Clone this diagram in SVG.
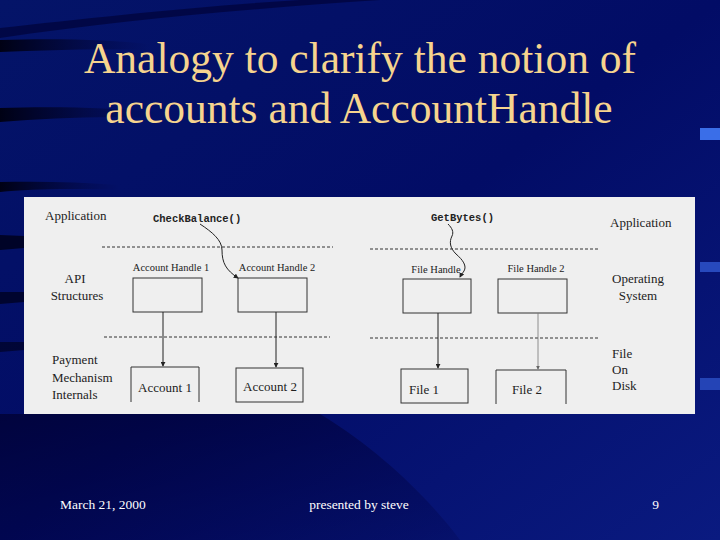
<svg xmlns="http://www.w3.org/2000/svg" width="720" height="540" viewBox="0 0 720 540">
  <defs>
    <linearGradient id="bg" x1="0" y1="0" x2="1" y2="1">
      <stop offset="0" stop-color="#041468"/>
      <stop offset="0.5" stop-color="#020c66"/>
      <stop offset="1" stop-color="#0a1a80"/>
    </linearGradient>
    <linearGradient id="streak" x1="0" y1="0" x2="1" y2="0">
      <stop offset="0" stop-color="#000010" stop-opacity="0.95"/>
      <stop offset="0.6" stop-color="#000020" stop-opacity="0.35"/>
      <stop offset="1" stop-color="#000030" stop-opacity="0"/>
    </linearGradient>
    <linearGradient id="lowdark" x1="0" y1="0" x2="1" y2="1">
      <stop offset="0" stop-color="#000030" stop-opacity="0.75"/>
      <stop offset="1" stop-color="#000040" stop-opacity="0.2"/>
    </linearGradient>
    <marker id="ah" viewBox="0 0 6 6" refX="5" refY="3" markerWidth="5" markerHeight="5" orient="auto">
      <path d="M0,0 L6,3 L0,6 z" fill="#222"/>
    </marker>
    <marker id="ahg" viewBox="0 0 6 6" refX="5" refY="3" markerWidth="5" markerHeight="5" orient="auto">
      <path d="M0,0 L6,3 L0,6 z" fill="#666"/>
    </marker>
  </defs>
  <style>
    .title { font-family: "Liberation Serif", "Times New Roman", serif; font-size: 43.5px; fill: #f6d48e; text-anchor: middle; }
    .foot { font-family: "Liberation Serif", "Times New Roman", serif; font-size: 13.5px; fill: #ffffff; }
    .lab { font-family: "Liberation Serif", "Times New Roman", serif; font-size: 13px; fill: #222; }
    .small { font-family: "Liberation Serif", "Times New Roman", serif; font-size: 10.5px; fill: #222; }
    .mono { font-family: "Liberation Mono", "Courier New", monospace; font-size: 10.5px; font-weight: bold; fill: #222; }
    .box { fill: none; stroke: #333; stroke-width: 1; }
    .dash { stroke: #333; stroke-width: 1; stroke-dasharray: 3 2; fill: none; }
    .conn { stroke: #222; stroke-width: 1; fill: none; }
  </style>

  <!-- background -->
  <rect x="0" y="0" width="720" height="540" fill="url(#bg)"/>
  <path d="M0,38 C120,20 260,8 380,0 L300,0 C200,6 90,18 0,28 z" fill="#000030" opacity="0.6"/>
  <path d="M0,40 C60,38 110,40 150,44 L150,50 C100,48 50,50 0,52 z" fill="url(#streak)"/>
  <path d="M0,108 C60,106 110,108 160,112 L160,118 C100,116 50,118 0,122 z" fill="url(#streak)"/>
  <path d="M0,182 C40,181 80,182 120,185 L120,190 C70,188 30,189 0,192 z" fill="url(#streak)"/>
  <path d="M0,235 L24,236 L24,248 L0,250 z" fill="#000018" opacity="0.8"/>
  <path d="M0,292 L24,292 L24,302 L0,304 z" fill="#000018" opacity="0.7"/>
  <path d="M0,342 L24,342 L24,350 L0,352 z" fill="#000018" opacity="0.6"/>
  <path d="M0,414 L320,414 C380,450 430,500 460,540 L0,540 z" fill="url(#lowdark)"/>
  <rect x="700" y="128" width="20" height="12" fill="#3a6ee8"/>
  <rect x="700" y="262" width="20" height="10" fill="#3058d0" opacity="0.8"/>
  <rect x="700" y="378" width="20" height="12" fill="#3058d0" opacity="0.7"/>

  <!-- title -->
  <g id="title">
    <text class="title" x="360" y="73">Analogy to clarify the notion of</text>
    <text class="title" x="359" y="123">accounts and AccountHandle</text>
  </g>

  <!-- figure panel -->
  <rect x="24" y="197" width="671" height="217" fill="#efefef"/>

  <!-- layer separators -->
  <g id="separators">
    <line class="dash" x1="102" y1="247" x2="333" y2="247"/>
    <line class="dash" x1="104" y1="337" x2="330" y2="337"/>
    <line class="dash" x1="370" y1="249" x2="598" y2="249"/>
    <line class="dash" x1="370" y1="338" x2="599" y2="338"/>
  </g>

  <!-- layer labels -->
  <g id="left-layers">
    <text class="lab" x="45" y="220">Application</text>
    <text class="lab" x="75" y="283" text-anchor="middle">API</text>
    <text class="lab" x="77" y="300" text-anchor="middle">Structures</text>
    <text class="lab" x="52" y="364">Payment</text>
    <text class="lab" x="52" y="382">Mechanism</text>
    <text class="lab" x="52" y="399">Internals</text>
  </g>
  <g id="right-layers">
    <text class="lab" x="610" y="227">Application</text>
    <text class="lab" x="638" y="283" text-anchor="middle">Operating</text>
    <text class="lab" x="638" y="300" text-anchor="middle">System</text>
    <text class="lab" x="612" y="358">File</text>
    <text class="lab" x="612" y="374">On</text>
    <text class="lab" x="612" y="390">Disk</text>
  </g>

  <!-- calls -->
  <g id="call-checkbalance">
    <text class="mono" x="153" y="222">CheckBalance()</text>
  </g>
  <g id="call-getbytes">
    <text class="mono" x="431" y="221">GetBytes()</text>
  </g>

  <!-- nodes -->
  <g id="account-handle-1">
    <text class="small" x="171" y="271" text-anchor="middle">Account Handle 1</text>
    <rect class="box" x="133" y="278" width="69" height="34"/>
  </g>
  <g id="account-handle-2">
    <text class="small" x="277" y="271" text-anchor="middle">Account Handle 2</text>
    <rect class="box" x="238" y="278" width="69" height="34"/>
  </g>
  <g id="account-1">
    <path class="box" d="M131,402 V367 H199 V402"/>
    <text class="lab" x="165" y="392" text-anchor="middle">Account 1</text>
  </g>
  <g id="account-2">
    <rect class="box" x="236" y="368" width="67" height="34"/>
    <text class="lab" x="270" y="391" text-anchor="middle">Account 2</text>
  </g>
  <g id="file-handle">
    <text class="small" x="436" y="273" text-anchor="middle">File Handle</text>
    <rect class="box" x="403" y="279" width="68" height="34"/>
  </g>
  <g id="file-handle-2">
    <text class="small" x="536" y="272" text-anchor="middle">File Handle 2</text>
    <rect class="box" x="498" y="279" width="69" height="34"/>
  </g>
  <g id="file-1">
    <rect class="box" x="401" y="369" width="67" height="34"/>
    <text class="lab" x="424" y="394" text-anchor="middle">File 1</text>
  </g>
  <g id="file-2">
    <path class="box" d="M496,404 V370 H566 V404"/>
    <text class="lab" x="527" y="394" text-anchor="middle">File 2</text>
  </g>

  <!-- connectors -->
  <g id="connectors">
    <path class="conn" d="M200,224 C212,232 222,240 222,250 C222,263 226,270 238,278" marker-end="url(#ah)"/>
    <path class="conn" d="M448,224 C452,228 454,232 452,236 C449,242 450,248 456,254 C463,260 467,266 464,271 C462,274 461,275 460,277" marker-end="url(#ah)"/>
    <line class="conn" x1="163" y1="312" x2="163" y2="366" marker-end="url(#ah)"/>
    <line class="conn" x1="276" y1="312" x2="276" y2="367" marker-end="url(#ah)"/>
    <line class="conn" x1="438" y1="313" x2="438" y2="368" marker-end="url(#ah)"/>
    <line x1="538" y1="313" x2="538" y2="369" stroke="#777" stroke-width="0.8" marker-end="url(#ahg)"/>
  </g>

  <!-- footer -->
  <g id="footer">
    <text class="foot" x="60" y="509">March 21, 2000</text>
    <text class="foot" x="359" y="509" text-anchor="middle">presented by steve</text>
    <text class="foot" x="659" y="509" text-anchor="end">9</text>
  </g>
</svg>
